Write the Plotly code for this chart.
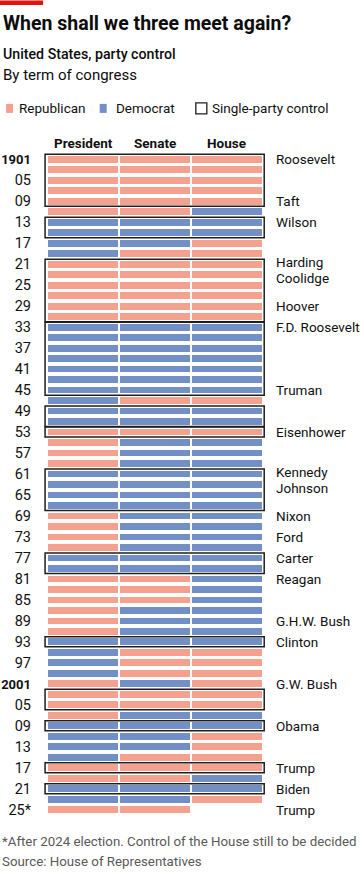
import plotly.graph_objects as go

# ---------------- data ----------------
years = [1901, 1903, 1905, 1907, 1909, 1911, 1913, 1915, 1917, 1919,
         1921, 1923, 1925, 1927, 1929, 1931, 1933, 1935, 1937, 1939,
         1941, 1943, 1945, 1947, 1949, 1951, 1953, 1955, 1957, 1959,
         1961, 1963, 1965, 1967, 1969, 1971, 1973, 1975, 1977, 1979,
         1981, 1983, 1985, 1987, 1989, 1991, 1993, 1995, 1997, 1999,
         2001, 2003, 2005, 2007, 2009, 2011, 2013, 2015, 2017, 2019,
         2021, 2023, 2025]

president = ["R", "R", "R", "R", "R", "R", "D", "D", "D", "D",
             "R", "R", "R", "R", "R", "R", "D", "D", "D", "D",
             "D", "D", "D", "D", "D", "D", "R", "R", "R", "R",
             "D", "D", "D", "D", "R", "R", "R", "R", "D", "D",
             "R", "R", "R", "R", "R", "R", "D", "D", "D", "D",
             "R", "R", "R", "R", "D", "D", "D", "D", "R", "R",
             "D", "D", "R"]

senate = ["R", "R", "R", "R", "R", "R", "D", "D", "D", "R",
          "R", "R", "R", "R", "R", "R", "D", "D", "D", "D",
          "D", "D", "D", "R", "D", "D", "R", "D", "D", "D",
          "D", "D", "D", "D", "D", "D", "D", "D", "D", "D",
          "R", "R", "R", "D", "D", "D", "D", "R", "R", "R",
          "D", "R", "R", "D", "D", "D", "D", "R", "R", "R",
          "D", "D", "R"]

house = ["R", "R", "R", "R", "R", "D", "D", "D", "R", "R",
         "R", "R", "R", "R", "R", "R", "D", "D", "D", "D",
         "D", "D", "D", "R", "D", "D", "R", "D", "D", "D",
         "D", "D", "D", "D", "D", "D", "D", "D", "D", "D",
         "D", "D", "D", "D", "D", "D", "D", "R", "R", "R",
         "R", "R", "R", "D", "D", "R", "R", "R", "R", "D",
         "D", "R", None]

columns = ["President", "Senate", "House"]

tick_labels = ["1901", "05", "09", "13", "17", "21", "25", "29", "33", "37",
               "41", "45", "49", "53", "57", "61", "65", "69", "73", "77",
               "81", "85", "89", "93", "97", "2001", "05", "09", "13", "17",
               "21", "25*"]
bold_ticks = ["1901", "2001"]

name_years = [1901, 1909, 1913, 1921, 1923, 1929, 1933, 1945, 1953, 1961, 1963,
              1969, 1973, 1977, 1981, 1989, 1993, 2001, 2009, 2017, 2021, 2025]
names = ["Roosevelt", "Taft", "Wilson", "Harding", "Coolidge", "Hoover",
         "F.D. Roosevelt", "Truman", "Eisenhower", "Kennedy", "Johnson",
         "Nixon", "Ford", "Carter", "Reagan", "G.H.W. Bush", "Clinton",
         "G.W. Bush", "Obama", "Trump", "Biden", "Trump"]

# ---------------- style ----------------
COL = {"R": "#F4A190", "D": "#7290C6"}
BOX = "#1e1e1e"
FONT = "Roboto"
W, H = 360, 873

# pixel geometry
ux, x0px = 71.5, 47.5            # px per column unit, px of data x=0
uy, y0px = 10.5, 159.0           # px per row, px of row 0 centre
xr = [-0.05, 3.05]
yr_top, yr_bot = -0.7, 62.7
pl = x0px + xr[0] * ux
pw = (xr[1] - xr[0]) * ux
pt = y0px + yr_top * uy
ph = (yr_bot - yr_top) * uy
pr = W - pl - pw
pb = H - pt - ph


def px(x):
    return (x - pl) / pw


def py(y):
    return (pt + ph - y) / ph


rows = list(range(len(years)))
cols_data = [president, senate, house]
gap = 0.011

fig = go.Figure()
for party, name in [("R", "Republican"), ("D", "Democrat")]:
    ys, bases, xs = [], [], []
    for ci, col in enumerate(cols_data):
        for r in rows:
            if col[r] == party:
                ys.append(r)
                bases.append(ci + gap)
                xs.append(1 - 2 * gap)
    fig.add_trace(go.Bar(
        y=ys, x=xs, base=bases, orientation="h", width=0.64,
        marker=dict(color=COL[party], line=dict(width=0)),
        name=name, showlegend=False, hoverinfo="skip"))

# single-party control boxes (runs of rows where all three agree)
runs = []
for r in rows:
    p, s, h = president[r], senate[r], house[r]
    single = h is not None and p == s == h
    if single:
        if runs and runs[-1][1] == r - 1 and runs[-1][2] == p:
            runs[-1][1] = r
        else:
            runs.append([r, r, p])
shapes = []
for a, b, p in runs:
    shapes.append(dict(type="rect", xref="x", yref="y",
                       x0=-0.035, x1=3.025, y0=a - 0.48, y1=b + 0.48,
                       line=dict(color=BOX, width=1.5), fillcolor="rgba(0,0,0,0)",
                       layer="above"))

annotations = []
# column headers
for ci, c in enumerate(columns):
    annotations.append(dict(xref="x", yref="paper", x=ci + 0.5, y=py(143),
                            text="<b>" + c + "</b>", showarrow=False,
                            xanchor="center", yanchor="middle",
                            font=dict(family=FONT, size=13.5, color="#111")))
# president names
name_rows = [years.index(y) for y in name_years]
for i, (r, nm) in enumerate(zip(name_rows, names)):
    shift = 0
    if i + 1 < len(name_rows) and name_rows[i + 1] == r + 1:
        shift = 2
    if i > 0 and name_rows[i - 1] == r - 1:
        shift = -3
    annotations.append(dict(xref="paper", yref="y", x=px(274), y=r, yshift=shift,
                            text=nm, showarrow=False, xanchor="left",
                            yanchor="middle",
                            font=dict(family=FONT, size=13.5, color="#111")))

# red top bar
shapes.append(dict(type="rect", xref="paper", yref="paper",
                   x0=px(0), x1=px(43), y0=py(0), y1=py(4.5),
                   line=dict(width=0), fillcolor="#E3120B"))

# titles
annotations += [
    dict(xref="paper", yref="paper", x=px(1), y=py(23), text="<b>When shall we three meet again?</b>",
         showarrow=False, xanchor="left", yanchor="middle",
         font=dict(family=FONT, size=19.5, color="#0d0d0d")),
    dict(xref="paper", yref="paper", x=px(1), y=py(54), text="United States, party control",
         showarrow=False, xanchor="left", yanchor="middle",
         font=dict(family=FONT, size=14.2, color="#0d0d0d", weight=500)),
    dict(xref="paper", yref="paper", x=px(1), y=py(75), text="By term of congress",
         showarrow=False, xanchor="left", yanchor="middle",
         font=dict(family=FONT, size=15, color="#0d0d0d")),
]

# legend
leg_font = dict(family=FONT, size=13.5, color="#111")
shapes += [
    dict(type="rect", xref="paper", yref="paper", x0=px(6), x1=px(13), y0=py(103.5), y1=py(112.5),
         line=dict(width=0), fillcolor=COL["R"]),
    dict(type="rect", xref="paper", yref="paper", x0=px(99.5), x1=px(106.5), y0=py(103.5), y1=py(112.5),
         line=dict(width=0), fillcolor=COL["D"]),
    dict(type="rect", xref="paper", yref="paper", x0=px(195.5), x1=px(206.5), y0=py(102.5), y1=py(113.5),
         line=dict(width=1.3, color=BOX), fillcolor="rgba(0,0,0,0)"),
]
annotations += [
    dict(xref="paper", yref="paper", x=px(16.5), y=py(108), text="Republican", showarrow=False,
         xanchor="left", yanchor="middle", font=leg_font),
    dict(xref="paper", yref="paper", x=px(114), y=py(108), text="Democrat", showarrow=False,
         xanchor="left", yanchor="middle", font=leg_font),
    dict(xref="paper", yref="paper", x=px(209.5), y=py(108), text="Single-party control", showarrow=False,
         xanchor="left", yanchor="middle", font=leg_font),
]

# footer
foot = dict(family=FONT, size=13.3, color="#595959")
annotations += [
    dict(xref="paper", yref="paper", x=px(0), y=py(842),
         text="*After 2024 election. Control of the House still to be decided",
         showarrow=False, xanchor="left", yanchor="middle", font=foot),
    dict(xref="paper", yref="paper", x=px(0), y=py(862), text="Source: House of Representatives",
         showarrow=False, xanchor="left", yanchor="middle", font=foot),
]

tick_text = [('<span style="font-size:13px"><b>%s</b></span>' % t) if t in bold_ticks else t
             for t in tick_labels]

fig.update_layout(
    width=W, height=H,
    margin=dict(l=pl, r=pr, t=pt, b=pb, pad=0, autoexpand=False),
    paper_bgcolor="white", plot_bgcolor="white",
    barmode="overlay", bargap=0,
    showlegend=False,
    shapes=shapes, annotations=annotations,
    xaxis=dict(range=xr, visible=False, fixedrange=True, automargin=False),
    yaxis=dict(range=[yr_bot, yr_top], showgrid=False, zeroline=False, showline=False,
               automargin=False,
               tickvals=[years.index(y) for y in years[::2]], ticktext=tick_text,
               ticks="", ticklabelstandoff=12,
               tickfont=dict(family=FONT, size=14.5, color="#111"), fixedrange=True),
)

fig.write_html("out.html", config={"displayModeBar": False},
               post_script="document.body.style.margin='0px';")
